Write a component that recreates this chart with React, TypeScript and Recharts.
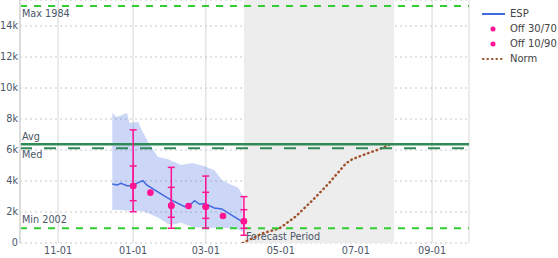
import React from "react";
import {
  ComposedChart,
  Line,
  Area,
  Scatter,
  ErrorBar,
  XAxis,
  YAxis,
  CartesianGrid,
  ReferenceLine,
  ReferenceArea,
} from "recharts";

const FONT = "'DejaVu Sans', Verdana, sans-serif";
const TEXT = "#4a5568";

// x is day of water year (0 = Oct 1)
const X_TICKS = [0, 31, 92, 151, 212, 273, 335, 365];
const X_LABELS = ["", "11-01", "01-01", "03-01", "05-01", "07-01", "09-01", ""];
const Y_TICKS = [0, 2000, 4000, 6000, 8000, 10000, 12000, 14000];

const ESP_DAYS = [75, 79, 82, 87, 92, 96, 100, 103, 112, 123, 134, 138, 142, 146, 150, 158, 164, 172, 181];
const ESP_VALUES = [3800, 3750, 3850, 3700, 3700, 3900, 4020, 3750, 3300, 2770, 2340, 2450, 2730, 2500, 2550, 2260, 2200, 1800, 1370];

const BAND_DAYS = [75, 78, 81, 84, 87, 89, 96, 99, 104, 112, 115, 120, 123, 131, 140, 150, 158, 161, 164, 172, 177, 181];
const BAND_HIGH = [8410, 8150, 8190, 8300, 8390, 7740, 7830, 7290, 6540, 5570, 5500, 5420, 5300, 5030, 5160, 4950, 4700, 4400, 4060, 3750, 3600, 3100];
const BAND_LOW = [2130, 2130, 2130, 2120, 2100, 2100, 2080, 2050, 1940, 1650, 1500, 1250, 1160, 1300, 1030, 970, 990, 1000, 980, 950, 900, 700];

const OFF_DAYS = [92, 123, 151, 182];
const OFF_VALUES = [3680, 2410, 2340, 1400];
const OFF_P10 = [2020, 950, 950, 500];
const OFF_P30 = [2730, 1660, 1590, 950];
const OFF_P70 = [4970, 3590, 3270, 2150];
const OFF_P90 = [7300, 4880, 4320, 2990];

const MID_DAYS = [106, 137, 165];
const MID_VALUES = [3250, 2390, 1740];

const NORM_DAYS = [181, 197, 211, 224, 238, 251, 265, 270, 281, 292, 300];
const NORM_VALUES = [0, 620, 950, 1700, 2770, 3850, 5140, 5400, 5740, 6050, 6330];

const MAX_VAL = 15300;
const AVG_VAL = 6370;
const MED_VAL = 6110;
const MIN_VAL = 950;
const FORECAST = [182, 304];

const espData = ESP_DAYS.map((d, i) => ({ day: d, v: ESP_VALUES[i] }));
const bandData = BAND_DAYS.map((d, i) => ({ day: d, range: [BAND_LOW[i], BAND_HIGH[i]] }));
const offData = OFF_DAYS.map((d, i) => ({
  day: d,
  v: OFF_VALUES[i],
  e3070: [OFF_VALUES[i] - OFF_P30[i], OFF_P70[i] - OFF_VALUES[i]],
  e1090: [OFF_VALUES[i] - OFF_P10[i], OFF_P90[i] - OFF_VALUES[i]],
}));
const midData = MID_DAYS.map((d, i) => ({ day: d, v: MID_VALUES[i] }));
const normData = NORM_DAYS.map((d, i) => ({ day: d, v: NORM_VALUES[i] }));

const PINK = "#ff1493";

const dot = (p: any) => <circle cx={p.cx} cy={p.cy} r={3.3} fill={PINK} />;

const refLabel = (text: string, dy: number) => (p: any) => (
  <text x={p.viewBox.x + 2} y={p.viewBox.y + dy} fontSize={9.7} fill={TEXT} fontFamily={FONT}>
    {text}
  </text>
);

function LegendBox() {
  const rows = [
    { name: "ESP", icon: <line x1={3} x2={26} y1={7} y2={7} stroke="#4169e1" strokeWidth={2} /> },
    { name: "Off 30/70", icon: <circle cx={14} cy={7} r={2.5} fill={PINK} /> },
    { name: "Off 10/90", icon: <circle cx={14} cy={7} r={2.5} fill={PINK} /> },
    {
      name: "Norm",
      icon: (
        <line x1={4} x2={26} y1={7} y2={7} stroke="#a0522d" strokeWidth={2.2}
          strokeDasharray="0.5 4" strokeLinecap="round" />
      ),
    },
  ];
  return (
    <div style={{ position: "absolute", left: 479, top: 6, fontFamily: FONT, fontSize: 10, color: "#444" }}>
      {rows.map((r) => (
        <div key={r.name} style={{ display: "flex", alignItems: "center", height: 15 }}>
          <svg width={31} height={14}>{r.icon}</svg>
          <span>{r.name}</span>
        </div>
      ))}
    </div>
  );
}

export default function App() {
  return (
    <div style={{ position: "absolute", left: 0, top: 0, width: 558, height: 258, background: "#fff" }}>
      <ComposedChart width={558} height={258} margin={{ top: 0, right: 89, bottom: 0, left: 0 }}>
        <CartesianGrid horizontal={false} stroke="#e4e4e4" strokeWidth={1.5} />
        <CartesianGrid vertical={false} stroke="#c8c8c8" strokeDasharray="2 3" />
        <ReferenceArea
          x1={FORECAST[0]}
          x2={FORECAST[1]}
          fill="#ededed"
          fillOpacity={1}
          label={(p: any) => (
            <text x={p.viewBox.x + 2} y={p.viewBox.y + p.viewBox.height - 3.5} fontSize={9.7} fill={TEXT} fontFamily={FONT}>
              Forecast Period
            </text>
          )}
        />
        <XAxis
          dataKey="day"
          type="number"
          domain={[0, 365]}
          ticks={X_TICKS}
          tickFormatter={(v: number) => X_LABELS[X_TICKS.indexOf(v)] ?? ""}
          height={15}
          axisLine={false}
          tickLine={false}
          tickSize={0}
          tickMargin={4}
          tick={{ fontSize: 9.7, fill: TEXT, fontFamily: FONT }}
          allowDataOverflow
        />
        <YAxis
          type="number"
          domain={[0, 15680]}
          ticks={Y_TICKS}
          tickFormatter={(v: number) => (v === 0 ? "0" : `${v / 1000}k`)}
          width={20}
          axisLine={{ stroke: "#dcdcdc", strokeWidth: 2 }}
          tickLine={false}
          tickSize={0}
          tickMargin={2}
          tick={{ fontSize: 9.7, fill: TEXT, fontFamily: FONT }}
          allowDataOverflow
        />
        <Area
          data={bandData}
          dataKey="range"
          type="linear"
          stroke="none"
          fill="#4169e1"
          fillOpacity={0.27}
          isAnimationActive={false}
        />
        <Line
          data={espData}
          dataKey="v"
          type="linear"
          stroke="#4169e1"
          strokeWidth={1.5}
          dot={false}
          isAnimationActive={false}
        />
        <Line
          data={normData}
          dataKey="v"
          type="linear"
          stroke="#a0522d"
          strokeWidth={2.5}
          strokeDasharray="0.5 4"
          strokeLinecap="round"
          dot={false}
          isAnimationActive={false}
        />
        <ReferenceLine y={MAX_VAL} stroke="#32cd32" strokeWidth={2} strokeDasharray="7 7" label={refLabel("Max 1984", 11.5)} />
        <ReferenceLine y={AVG_VAL} stroke="#2e8b57" strokeWidth={2.5} label={refLabel("Avg", -4)} />
        <ReferenceLine y={MED_VAL} stroke="#2e8b57" strokeWidth={2} strokeDasharray="12 12" label={refLabel("Med", 10)} />
        <ReferenceLine y={MIN_VAL} stroke="#32cd32" strokeWidth={2} strokeDasharray="7 7" label={refLabel("Min 2002", -5)} />
        <Scatter data={offData} dataKey="v" fill={PINK} shape={dot} isAnimationActive={false}>
          <ErrorBar dataKey="e1090" direction="y" width={3.5} stroke={PINK} strokeWidth={1.5} />
        </Scatter>
        <Scatter data={offData} dataKey="v" fill={PINK} shape={dot} isAnimationActive={false}>
          <ErrorBar dataKey="e3070" direction="y" width={3.5} stroke={PINK} strokeWidth={1.5} />
        </Scatter>
        <Scatter data={midData} dataKey="v" fill={PINK} shape={dot} isAnimationActive={false} />
      </ComposedChart>
      <LegendBox />
    </div>
  );
}
